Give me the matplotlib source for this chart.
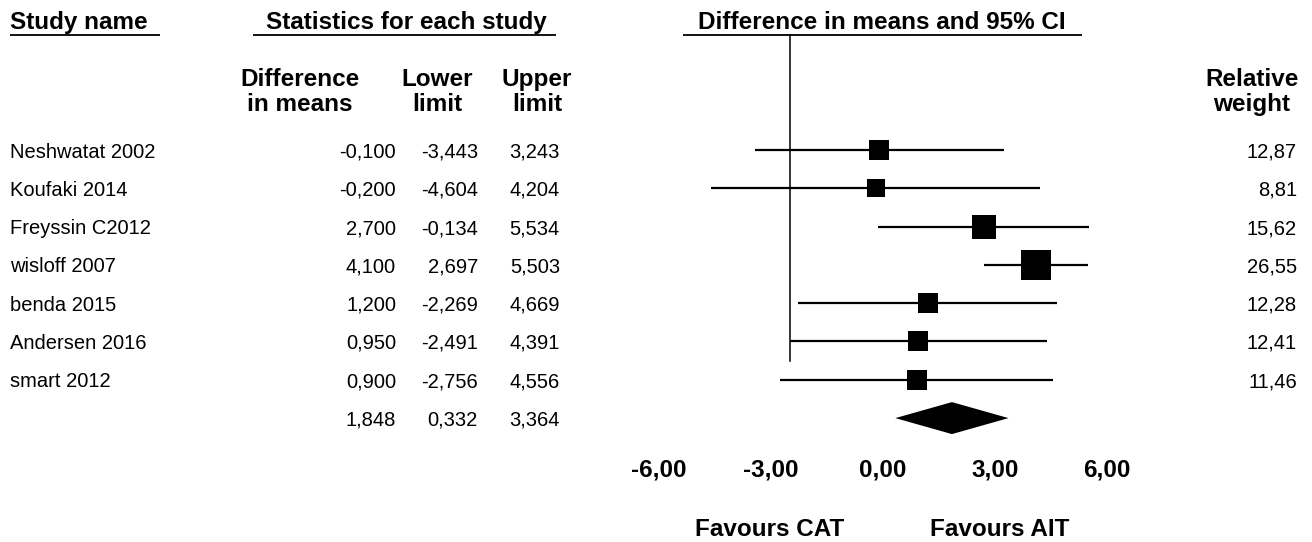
import matplotlib
matplotlib.use("Agg")
import matplotlib.pyplot as plt
import matplotlib.transforms as mtransforms
import numpy as np

plt.rcParams['font.family'] = ['Liberation Sans', 'DejaVu Sans']

studies = ["Neshwatat 2002", "Koufaki 2014", "Freyssin C2012", "wisloff 2007",
           "benda 2015", "Andersen 2016", "smart 2012"]
diff = [-0.100, -0.200, 2.700, 4.100, 1.200, 0.950, 0.900]
lower = [-3.443, -4.604, -0.134, 2.697, -2.269, -2.491, -2.756]
upper = [3.243, 4.204, 5.534, 5.503, 4.669, 4.391, 4.556]
weights = [12.87, 8.81, 15.62, 26.55, 12.28, 12.41, 11.46]
summary_diff, summary_lower, summary_upper = 1.848, 0.332, 3.364
xticks = [-6, -3, 0, 3, 6]
tick_labels = ["-6,00", "-3,00", "0,00", "3,00", "6,00"]
ref_line = -2.5

def fmt3(v):
    return f"{v:.3f}".replace(".", ",")

def fmt2(v):
    return f"{v:.2f}".replace(".", ",")

W, H = 1312, 542
fig = plt.figure(figsize=(W / 100, H / 100), dpi=100)
ax = fig.add_axes([0, 0, 1, 1])
ax.axis("off")

# pixel mapping
x0_px, ppu = 883.0, 37.3
row0_px, row_px = 150.0, 38.3
ax.set_xlim(-x0_px / ppu, (W - x0_px) / ppu)
ax.set_ylim((H - row0_px) / row_px, -row0_px / row_px)

def py(p):  # pixel y -> row units
    return (p - row0_px) / row_px

trans = mtransforms.blended_transform_factory(fig.transFigure, ax.transData)

def fx(p):
    return p / W

fs = 14.5
fsb = 17.5
base_off = 7.5 / row_px

# Headers
ax.text(fx(10), py(29), "Study name", transform=trans, fontsize=fsb, fontweight="bold",
        ha="left", va="baseline")
ax.text(fx(406), py(29), "Statistics for each study", transform=trans, fontsize=fsb,
        fontweight="bold", ha="center", va="baseline")
ax.text(fx(882), py(29), "Difference in means and 95% CI", transform=trans, fontsize=fsb,
        fontweight="bold", ha="center", va="baseline")
for a, b in [(10, 160), (253, 556), (683, 1082)]:
    ax.plot([fx(a), fx(b)], [py(35), py(35)], transform=trans, color="black", lw=1.3,
            solid_capstyle="butt")

sub = [(300, "Difference", "in means"), (437, "Lower", "limit"), (537, "Upper", "limit"),
       (1252, "Relative", "weight")]
for x, t1, t2 in sub:
    ax.text(fx(x), py(86), t1, transform=trans, fontsize=fsb, fontweight="bold",
            ha="center", va="baseline")
    ax.text(fx(x), py(111), t2, transform=trans, fontsize=fsb, fontweight="bold",
            ha="center", va="baseline")

rows = np.arange(len(studies))
for i, name in enumerate(studies):
    yb = rows[i] + base_off
    ax.text(fx(10), yb, name, transform=trans, fontsize=fs, ha="left", va="baseline")
    ax.text(fx(396), yb, fmt3(diff[i]), transform=trans, fontsize=fs, ha="right", va="baseline")
    ax.text(fx(478), yb, fmt3(lower[i]), transform=trans, fontsize=fs, ha="right", va="baseline")
    ax.text(fx(560), yb, fmt3(upper[i]), transform=trans, fontsize=fs, ha="right", va="baseline")
    ax.text(fx(1297), yb, fmt2(weights[i]), transform=trans, fontsize=fs, ha="right", va="baseline")

srow = len(studies)
yb = srow + base_off
ax.text(fx(396), yb, fmt3(summary_diff), transform=trans, fontsize=fs, ha="right", va="baseline")
ax.text(fx(478), yb, fmt3(summary_lower), transform=trans, fontsize=fs, ha="right", va="baseline")
ax.text(fx(560), yb, fmt3(summary_upper), transform=trans, fontsize=fs, ha="right", va="baseline")

# reference vertical line
ax.plot([ref_line, ref_line], [py(35), srow - 1.5], color="black", lw=1.1)

# CIs and squares
for i in range(len(studies)):
    ax.plot([lower[i], upper[i]], [rows[i], rows[i]], color="black", lw=1.6,
            solid_capstyle="butt")
    ms = 4.2 * np.sqrt(weights[i])
    ax.plot(diff[i], rows[i], marker="s", color="black", ms=ms, mew=0)

# diamond
dh = 16 / row_px
ax.fill([summary_lower, summary_diff, summary_upper, summary_diff],
        [srow, srow - dh, srow, srow + dh], color="black", lw=0)

# tick labels
for t, lab in zip(xticks, tick_labels):
    ax.text(t, py(477), lab, fontsize=fsb, fontweight="bold", ha="center", va="baseline")

ax.text(fx(770), py(536), "Favours CAT", transform=trans, fontsize=fsb, fontweight="bold",
        ha="center", va="baseline")
ax.text(fx(1000), py(536), "Favours AIT", transform=trans, fontsize=fsb, fontweight="bold",
        ha="center", va="baseline")

fig.savefig("out.png", dpi=100)
